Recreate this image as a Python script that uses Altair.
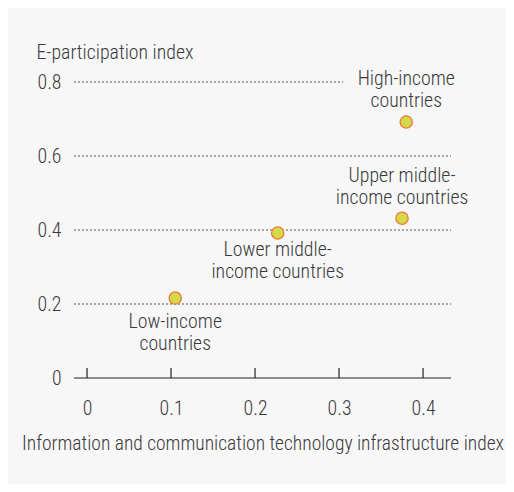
import altair as alt
import pandas as pd

groups = ["Low-income countries", "Lower middle-income countries",
          "Upper middle-income countries", "High-income countries"]
ict = [0.105, 0.227, 0.375, 0.380]
epart = [0.216, 0.392, 0.432, 0.692]
label_lines = [["Low-income", "countries"],
               ["Lower middle-", "income countries"],
               ["Upper middle-", "income countries"],
               ["High-income", "countries"]]
x_ticks = [0, 0.1, 0.2, 0.3, 0.4]
y_ticks = [0, 0.2, 0.4, 0.6, 0.8]
grid_y = [0.2, 0.4, 0.6, 0.8]
grid_x_end = [0.4333, 0.4333, 0.4333, 0.305]

FONT = "'Roboto Condensed', 'DejaVu Sans Condensed', 'Liberation Sans Narrow', Roboto, sans-serif"
TXT = "#3a3a3a"
FS = 19.8
FW = 300

df = pd.DataFrame({"group": groups, "ict": ict, "epart": epart,
                   "label": label_lines})

xs = alt.Scale(domain=[-0.0155, 0.4333], nice=False, zero=False)
ys = alt.Scale(domain=[0, 0.8], nice=False)

base = alt.Chart(df)

points = base.mark_point(filled=True, size=150, fill="#d4d94a",
                         stroke="#ec7a3c", strokeWidth=1.3, opacity=1).encode(
    x=alt.X("ict:Q", scale=xs,
            axis=alt.Axis(values=x_ticks, title="Information and communication technology infrastructure index",
                          grid=False, domain=False, ticks=False, labelPadding=20,
                          labelExpr="datum.value == 0 ? '0' : format(datum.value, '.1f')",
                          titlePadding=17, titleFontSize=19.5)),
    y=alt.Y("epart:Q", scale=ys,
            axis=alt.Axis(values=y_ticks, title="E-participation index",
                          grid=False,
                          domain=False, ticks=False, labelPadding=13,
                          labelExpr="datum.value == 0 ? '0' : format(datum.value, '.1f')",
                          titleAngle=0, titleAlign="left", titleAnchor="end",
                          titleX=-38, titleY=-30, titleBaseline="middle")),
)

grid = alt.Chart(pd.DataFrame({"y": grid_y, "x2": grid_x_end, "x": [-0.0155] * 4})).mark_rule(
    color="#555555", strokeWidth=1, strokeDash=[2, 2]).encode(
    y=alt.Y("y:Q", scale=ys), x=alt.X("x:Q", scale=xs), x2="x2:Q")

zero_line = alt.Chart(pd.DataFrame({"y": [0]})).mark_rule(color="#222222", strokeWidth=1.2).encode(
    y=alt.Y("y:Q", scale=ys), x=alt.value(0), x2=alt.value(377))

ticks_df = pd.DataFrame({"x": x_ticks})
xticks = alt.Chart(ticks_df).mark_rule(color="#222222", strokeWidth=1.2).encode(
    x=alt.X("x:Q", scale=xs), y=alt.value(286), y2=alt.value(296))

def lbl(i, dx, dy):
    return alt.Chart(df.iloc[[i]]).mark_text(
        font=FONT, fontSize=FS, fontWeight=FW, color=TXT, align="center", baseline="middle",
        dx=dx, dy=dy, lineHeight=22).encode(
        x=alt.X("ict:Q", scale=xs), y=alt.Y("epart:Q", scale=ys), text="label")

labels = [lbl(0, 0, 24), lbl(1, 0, 17), lbl(2, 0, -42), lbl(3, 0, -43)]

chart = alt.layer(grid, zero_line, xticks, points, *labels).properties(
    width=377, height=296, background="#f7f7f7",
    autosize=alt.AutoSizeParams(type="none"),
    padding={"left": 66, "top": 74, "right": 55, "bottom": 106},
).configure_view(stroke=None).configure_axis(
    labelFont=FONT, titleFont=FONT, labelFontSize=FS, titleFontSize=FS,
    labelFontWeight=FW, titleFontWeight=FW,
    labelColor=TXT, titleColor=TXT,
)

chart.save("out.html", embed_options={"renderer": "svg", "actions": False})
